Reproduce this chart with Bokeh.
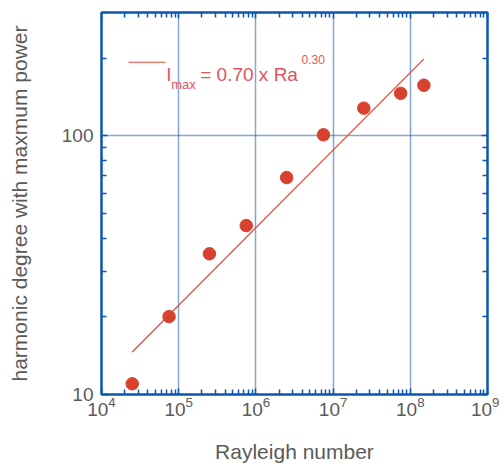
from bokeh.plotting import figure
from bokeh.models import LogAxis, FixedTicker, Label, Arrow, PrintfTickFormatter, LogTickFormatter, Range1d
from bokeh.embed import file_html
from bokeh.resources import INLINE

# ---- data ----
rayleigh = [2.5e4, 7.5e4, 2.5e5, 7.5e5, 2.5e6, 7.5e6, 2.5e7, 7.5e7, 1.5e8]
l_max = [11, 20, 35, 45, 69, 101, 128, 146, 157]

fit_rayleigh = [2.5e4, 1.5e8]
fit_l_max = [14.6, 198.5]          # l_max = 0.70 x Ra^0.30 at the two ends

x_major_ticks = [1e4, 1e5, 1e6, 1e7, 1e8, 1e9]
x_minor_ticks = [k * 10 ** e for e in range(4, 9) for k in range(2, 10)]
y_major_ticks = [10, 100]
y_minor_ticks = [20, 30, 40, 50, 60, 70, 80, 90, 200, 300]

x_label = "Rayleigh number"
y_label = "harmonic degree with maxmum power"

BLUE = "#0A56B0"
GREY = "#5a5a5a"
RED_PT = "#D9412F"
RED_LINE = "#E2473B"
RED_TXT = "#E0535C"
FONT = "Liberation Sans"

p = figure(width=499, height=465, x_axis_type="log", y_axis_type="log",
           x_range=Range1d(1e4, 1e9), y_range=Range1d(10, 300),
           output_backend="svg", toolbar_location=None,
           min_border_left=101, min_border_right=12, min_border_top=12, min_border_bottom=68)
p.background_fill_color = "white"
p.border_fill_color = "white"
p.outline_line_color = BLUE
p.outline_line_width = 2

xt = FixedTicker(ticks=x_major_ticks, minor_ticks=x_minor_ticks)
yt = FixedTicker(ticks=y_major_ticks, minor_ticks=y_minor_ticks)

def style(ax, ticker):
    ax.ticker = ticker
    ax.axis_line_color = BLUE
    ax.axis_line_width = 2
    ax.major_tick_line_color = BLUE
    ax.major_tick_line_width = 1.5
    ax.minor_tick_line_color = BLUE
    ax.minor_tick_line_width = 1.5
    ax.major_tick_in = 6
    ax.major_tick_out = 0
    ax.minor_tick_in = 5
    ax.minor_tick_out = 0
    ax.major_label_text_font = FONT
    ax.major_label_text_color = GREY
    ax.major_label_text_font_size = "19px"
    ax.axis_label_text_font = FONT
    ax.axis_label_text_color = GREY
    ax.axis_label_text_font_size = "21px"
    ax.axis_label_text_font_style = "normal"

xa = p.xaxis[0]
style(xa, xt)
xa.formatter = LogTickFormatter()
xa.major_label_standoff = 2
xa.axis_label = x_label
xa.axis_label_standoff = 21

ya = p.yaxis[0]
style(ya, yt)
ya.formatter = PrintfTickFormatter(format="%d")
ya.major_label_standoff = 8
ya.axis_label = y_label
ya.axis_label_standoff = 28

top = LogAxis()
style(top, xt)
top.major_label_text_font_size = "1px"
top.major_label_text_alpha = 0
top.major_label_standoff = 0
p.add_layout(top, "above")

right = LogAxis()
style(right, yt)
right.formatter = PrintfTickFormatter(format="%d")
right.major_label_text_font_size = "1px"
right.major_label_text_alpha = 0
right.major_label_standoff = 0
p.add_layout(right, "right")

for g, t in ((p.xgrid[0], xt), (p.ygrid[0], yt)):
    g.ticker = t
    g.grid_line_color = "#0B4FA8"
    g.grid_line_alpha = 1.0
    g.grid_line_width = 1.5
    g.grid_line_dash = "1 1"

p.line(fit_rayleigh, fit_l_max, line_color=RED_LINE, line_width=1.2)
p.scatter(rayleigh, l_max, size=12.5, fill_color=RED_PT, line_color=RED_PT)

# legend drawn by hand
p.add_layout(Arrow(end=None, x_start=2.24e4, y_start=192.6, x_end=6.74e4, y_end=192.6,
                   line_color=RED_LINE, line_width=1.2))
p.add_layout(Label(x=7.0e4, y=173.5, text="l", text_font=FONT, text_font_size="19px",
                   text_color=RED_TXT, text_baseline="alphabetic"))
p.add_layout(Label(x=8.0e4, y=158.5, text="max", text_font=FONT, text_font_size="13px",
                   text_color=RED_TXT, text_baseline="alphabetic"))
p.add_layout(Label(x=1.9e5, y=173.5, text="= 0.70 x Ra", text_font=FONT, text_font_size="19px",
                   text_color=RED_TXT, text_baseline="alphabetic"))
p.add_layout(Label(x=3.9e6, y=197.0, text="0.30", text_font=FONT, text_font_size="12px",
                   text_color=RED_TXT, text_baseline="alphabetic"))

open("out.html", "w").write(file_html(p, INLINE))
